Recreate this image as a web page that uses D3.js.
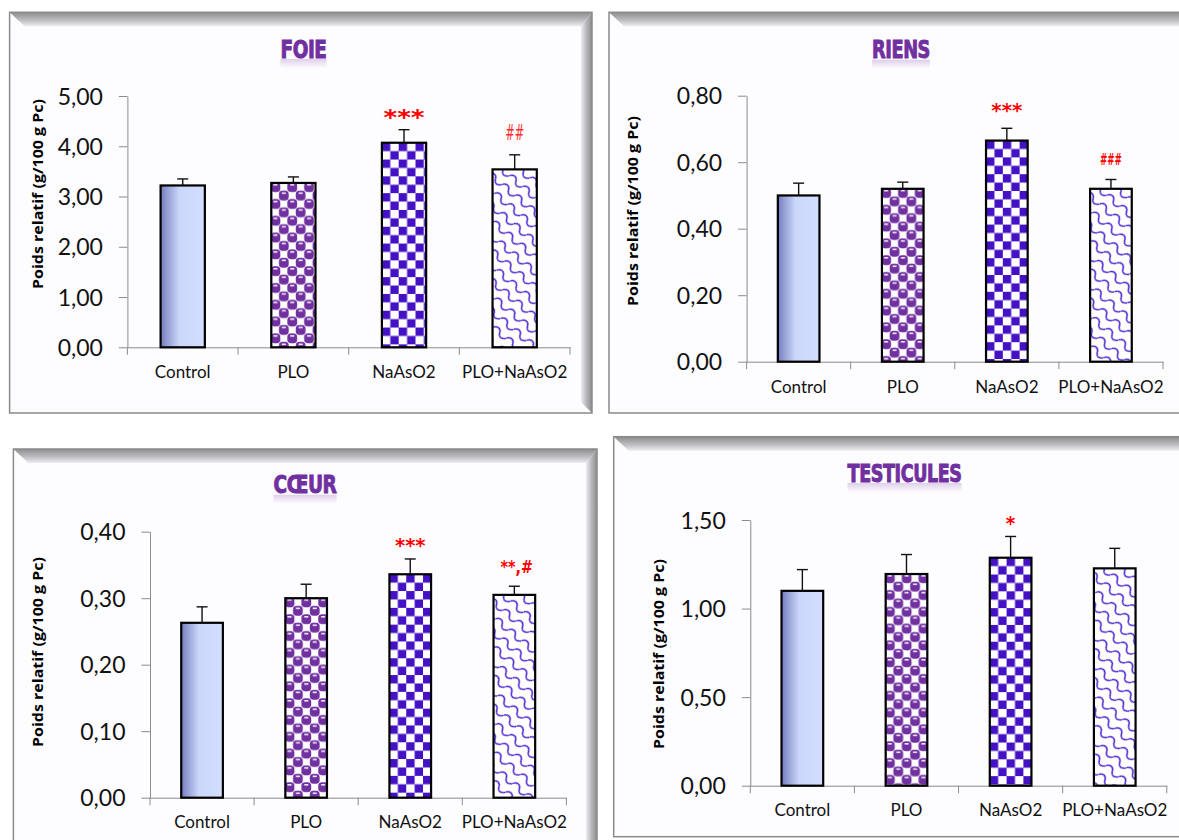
<!DOCTYPE html>
<html><head><meta charset="utf-8">
<script src="https://cdn.jsdelivr.net/npm/d3@7"></script>
<style>body{margin:0;background:#fff}svg{display:block}</style>
</head><body>
<svg id="c" width="1179" height="840"></svg>
<script>
// ---------------- DATA ----------------
const categories = ["Control", "PLO", "NaAsO2", "PLO+NaAsO2"];
const yAxisTitle = "Poids relatif (g/100 g Pc)";

const foieTitle = "FOIE";
const foieMeans = [3.22, 3.27, 4.07, 3.54];
const foieErrors = [0.13, 0.12, 0.26, 0.29];
const foieMarks = ["", "", "***", "##"];
const foieTicks = [0, 1, 2, 3, 4, 5];

const riensTitle = "RIENS";
const riensMeans = [0.50, 0.52, 0.665, 0.52];
const riensErrors = [0.037, 0.02, 0.037, 0.028];
const riensMarks = ["", "", "***", "###"];
const riensTicks = [0, 0.2, 0.4, 0.6, 0.8];

const coeurTitle = "CŒUR";
const coeurMeans = [0.263, 0.300, 0.336, 0.305];
const coeurErrors = [0.024, 0.021, 0.023, 0.013];
const coeurMarks = ["", "", "***", "**,#"];
const coeurTicks = [0, 0.1, 0.2, 0.3, 0.4];

const testTitle = "TESTICULES";
const testMeans = [1.10, 1.195, 1.287, 1.227];
const testErrors = [0.12, 0.11, 0.12, 0.113];
const testMarks = ["", "", "*", ""];
const testTicks = [0, 0.5, 1.0, 1.5];

// ---------------- LAYOUT ----------------
const panels = [
  {title: foieTitle, means: foieMeans, errors: foieErrors, marks: foieMarks, ticks: foieTicks,
   frame: {x0: 9.6, y0: 12.3, x1: 592, y1: 413},
   plot: {left: 127.4, right: 570, top: 96, bottom: 347.3},
   titlePos: [303.5, 49.3], titleW: 46, ylab: [38, 194], catY: 371.7,
   markStyle: {"***": {size: 22, w: 41, gap: 5, bold: true}, "##": {size: 22, w: 19, gap: 15, bold: false}}},
  {title: riensTitle, means: riensMeans, errors: riensErrors, marks: riensMarks, ticks: riensTicks,
   frame: {x0: 609, y0: 12.3, x1: 1190, y1: 413},
   plot: {left: 746.6, right: 1163, top: 95.7, bottom: 361.7},
   titlePos: [901, 50], titleW: 58, ylab: [632.5, 211], catY: 386.7,
   markStyle: {"***": {size: 19, w: 31, gap: 11, bold: true}, "###": {size: 15, w: 22, gap: 14, bold: true}}},
  {title: coeurTitle, means: coeurMeans, errors: coeurErrors, marks: coeurMarks, ticks: coeurTicks,
   frame: {x0: 13.4, y0: 449, x1: 597, y1: 850},
   plot: {left: 150, right: 566.4, top: 531.7, bottom: 797.7},
   titlePos: [305, 485], titleW: 63, ylab: [38, 652], catY: 821.7,
   markStyle: {"***": {size: 19, w: 30.6, gap: 7, bold: true}, "**,#": {size: 18, w: 32.5, gap: 13, bold: true}}},
  {title: testTitle, means: testMeans, errors: testErrors, marks: testMarks, ticks: testTicks,
   frame: {x0: 613.7, y0: 436.7, x1: 1190, y1: 836.7},
   plot: {left: 750.3, right: 1166.8, top: 520, bottom: 785.7},
   titlePos: [904.6, 473.3], titleW: 114, ylab: [659, 654], catY: 810,
   markStyle: {"*": {size: 19, w: 9.5, gap: 6, bold: true}}}
];

const PURPLE = "#7030a0";
const CHECK = "#4411c4";
const WAVE = "#4a1fd0";
const fmt = v => d3.format(".2f")(v).replace(".", ",");

const svg = d3.select("#c");
const defs = svg.append("defs");

function linGrad(id, x2, y2, stops) {
  const g = defs.append("linearGradient").attr("id", id)
    .attr("x1", 0).attr("y1", 0).attr("x2", x2).attr("y2", y2);
  stops.forEach(s => g.append("stop").attr("offset", s[0]).attr("stop-color", s[1])
    .attr("stop-opacity", s[2] === undefined ? 1 : s[2]));
}
linGrad("gTop", 0, 1, [[0, "#8d8d8d"], [0.55, "#bcbcc0"], [1, "#ececf2"]]);
linGrad("gRight", 1, 0, [[0, "#ececf2"], [0.45, "#bcbcc0"], [1, "#8d8d8d"]]);
linGrad("gCtrl", 1, 0, [[0, "#737cbd"], [0.12, "#8d98d0"], [0.42, "#cbd6fa"], [1, "#d3dfff"]]);
linGrad("gRefl", 0, 1, [[0, PURPLE, 0.22], [1, PURPLE, 0]]);

let pid = 0;
function checkerPattern(x, y) {
  const id = "pc" + (pid++), c = 8.4;
  const p = defs.append("pattern").attr("id", id).attr("patternUnits", "userSpaceOnUse")
    .attr("x", x).attr("y", y).attr("width", 2 * c).attr("height", 2 * c);
  p.append("rect").attr("width", 2 * c).attr("height", 2 * c).attr("fill", "#fff");
  p.append("rect").attr("width", c).attr("height", c).attr("fill", CHECK);
  p.append("rect").attr("x", c).attr("y", c).attr("width", c).attr("height", c).attr("fill", CHECK);
  return id;
}
function ballPattern(x, y) {
  const id = "pb" + (pid++), c = 8.4, T = 2 * c;
  const p = defs.append("pattern").attr("id", id).attr("patternUnits", "userSpaceOnUse")
    .attr("x", x).attr("y", y).attr("width", T).attr("height", T);
  p.append("rect").attr("width", T).attr("height", T).attr("fill", "#fff");
  const centers = [[c / 2, c / 2], [1.5 * c, 1.5 * c]];
  const s = c + 1.4;
  [-T, 0, T].forEach(dx => [-T, 0, T].forEach(dy => centers.forEach(([cx, cy]) => {
    p.append("rect").attr("x", cx + dx - s / 2).attr("y", cy + dy - s / 2).attr("width", s).attr("height", s)
      .attr("rx", 3.6).attr("fill", PURPLE);
  })));
  [-T, 0, T].forEach(dx => [-T, 0, T].forEach(dy => centers.forEach(([cx, cy]) => {
    p.append("rect").attr("x", cx + dx - 2).attr("y", cy + dy - 3.2).attr("width", 4).attr("height", 1.6)
      .attr("fill", "#fff").attr("opacity", 0.9);
  })));
  return id;
}
function wavePattern(x, y) {
  const id = "pw" + (pid++);
  const p = defs.append("pattern").attr("id", id).attr("patternUnits", "userSpaceOnUse")
    .attr("width", 17).attr("height", 11.5)
    .attr("patternTransform", `translate(${x},${y}) rotate(40)`);
  p.append("rect").attr("width", 17).attr("height", 11.5).attr("fill", "#fff");
  p.append("path").attr("d", "M-2,8 C2,1 6.5,1 8.5,5.5 C10.5,10 15,10 19,3")
    .attr("fill", "none").attr("stroke", WAVE).attr("stroke-width", 1.5);
  return id;
}

panels.forEach(P => {
  const g = svg.append("g");
  const f = P.frame;
  // frame
  g.append("rect").attr("x", f.x0).attr("y", f.y0).attr("width", f.x1 - f.x0).attr("height", f.y1 - f.y0)
    .attr("fill", "#fdfcff");
  g.append("path").attr("d", `M${f.x0},${f.y0}H${f.x1}L${f.x1 - 11},${f.y0 + 14}H${f.x0 + 15}Z`)
    .attr("fill", "url(#gTop)");
  g.append("path").attr("d", `M${f.x1},${f.y0}V${f.y1}L${f.x1 - 11},${f.y1 - 11}V${f.y0 + 14}Z`)
    .attr("fill", "url(#gRight)");
  g.append("rect").attr("x", f.x0).attr("y", f.y0).attr("width", f.x1 - f.x0).attr("height", f.y1 - f.y0)
    .attr("fill", "none").attr("stroke", "#8a8a8a").attr("stroke-width", 1.5);

  // title with soft reflection band
  const [tx, ty] = P.titlePos;
  const base = ty + 8.2;
  g.append("rect").attr("x", tx - P.titleW / 2).attr("y", base + 1.5).attr("width", P.titleW).attr("height", 9)
    .attr("fill", "url(#gRefl)");
  g.append("text").attr("x", tx).attr("y", base).attr("text-anchor", "middle")
    .attr("font-family", "'DejaVu Sans Condensed', 'DejaVu Sans', sans-serif").attr("font-stretch", "condensed")
    .attr("font-weight", "bold").attr("font-size", 24).attr("fill", PURPLE)
    .attr("stroke", PURPLE).attr("stroke-width", 0.9).attr("letter-spacing", -0.5)
    .attr("textLength", P.titleW).attr("lengthAdjust", "spacingAndGlyphs").text(P.title);

  // scales
  const pl = P.plot;
  const y = d3.scaleLinear().domain([0, d3.max(P.ticks)]).range([pl.bottom, pl.top]);
  const x = d3.scaleBand().domain(categories).range([pl.left, pl.right]).paddingInner(0.6).paddingOuter(0.3);

  // y axis
  const ya = g.append("g").attr("transform", `translate(${pl.left},0)`)
    .call(d3.axisLeft(y).tickValues(P.ticks).tickFormat(fmt).tickSize(8.5).tickSizeOuter(0).tickPadding(16));
  ya.select(".domain").attr("stroke", "#8c8c8c");
  ya.selectAll(".tick line").attr("stroke", "#8c8c8c");
  ya.selectAll(".tick text").attr("font-family", "Lato, 'Open Sans', sans-serif").attr("font-size", 23)
    .attr("fill", "#111").attr("dy", "0.35em");

  // x axis
  const xa = g.append("g").attr("transform", `translate(0,${pl.bottom})`)
    .call(d3.axisBottom(x).tickSize(0).tickSizeOuter(0).tickPadding(0));
  xa.select(".domain").attr("stroke", "#8c8c8c");
  xa.selectAll(".tick text").attr("font-family", "Lato, 'Open Sans', sans-serif").attr("font-size", 17)
    .attr("fill", "#111").attr("dy", null).attr("y", P.catY - pl.bottom + 6);
  const bounds = d3.range(categories.length + 1).map(i => pl.left + i * x.step());
  g.selectAll(null).data(bounds).join("line")
    .attr("x1", d => d).attr("x2", d => d).attr("y1", pl.bottom).attr("y2", pl.bottom + 7.5)
    .attr("stroke", "#8c8c8c");

  // bars
  const rows = categories.map((c, i) => ({c, i, v: P.means[i], e: P.errors[i], m: P.marks[i]}));
  rows.forEach(r => {
    const cx = x(r.c) + x.bandwidth() / 2;
    g.append("line").attr("x1", cx).attr("x2", cx).attr("y1", y(r.v)).attr("y2", y(r.v + r.e))
      .attr("stroke", "#111").attr("stroke-width", 1.4);
    g.append("line").attr("x1", cx - 5.5).attr("x2", cx + 5.5).attr("y1", y(r.v + r.e)).attr("y2", y(r.v + r.e))
      .attr("stroke", "#111").attr("stroke-width", 1.4);
  });
  rows.forEach(r => {
    const bx = x(r.c), by = y(r.v);
    let fill;
    if (r.i === 0) fill = "url(#gCtrl)";
    else if (r.i === 1) fill = `url(#${ballPattern(bx, by)})`;
    else if (r.i === 2) fill = `url(#${checkerPattern(bx, by)})`;
    else fill = `url(#${wavePattern(bx, by)})`;
    g.append("rect").attr("x", bx).attr("y", by).attr("width", x.bandwidth()).attr("height", pl.bottom - by)
      .attr("fill", fill).attr("stroke", "#000").attr("stroke-width", 2.2);
  });

  // significance marks
  rows.filter(r => r.m).forEach(r => {
    const st = P.markStyle[r.m];
    const cx = x(r.c) + x.bandwidth() / 2;
    g.append("text").attr("x", cx + (r.m.includes(",") ? 2.5 : 0)).attr("y", y(r.v + r.e) - st.gap)
      .attr("text-anchor", "middle")
      .attr("font-family", "'DejaVu Sans', sans-serif").attr("font-weight", st.bold ? "bold" : "normal")
      .attr("font-size", st.size).attr("fill", st.bold ? "#ff0000" : "#ff2a2a")
      .attr("textLength", st.w).attr("lengthAdjust", "spacingAndGlyphs").text(r.m);
  });

  // y axis title
  g.append("text").attr("transform", `translate(${P.ylab[0]},${P.ylab[1]}) rotate(-90)`)
    .attr("text-anchor", "middle").attr("dy", "0.35em")
    .attr("font-family", "'Open Sans', sans-serif").attr("font-weight", "bold").attr("font-size", 14.5)
    .attr("fill", "#000").attr("textLength", 190).attr("lengthAdjust", "spacingAndGlyphs")
    .text(yAxisTitle);
});
</script>
</body></html>
